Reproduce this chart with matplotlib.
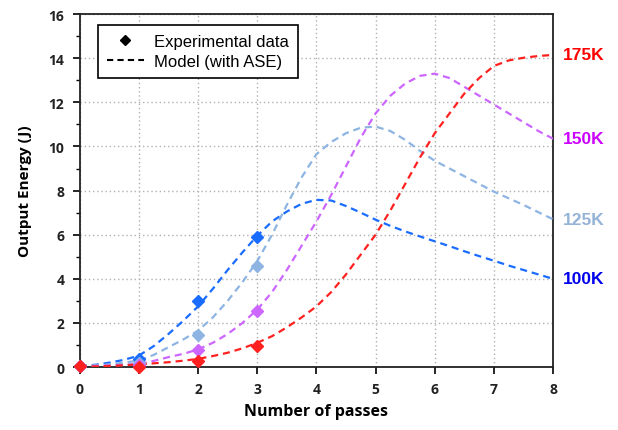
import matplotlib
matplotlib.use("Agg")
import matplotlib.pyplot as plt
from matplotlib.lines import Line2D

# ---- data ----
passes_exp = [0, 1, 2, 3]
exp_100K = [0.05, 0.37, 2.98, 5.9]
exp_125K = [0.05, 0.18, 1.45, 4.6]
exp_150K = [0.04, 0.10, 0.77, 2.52]
exp_175K = [0.03, 0.02, 0.28, 0.94]

passes_model = [0, 0.25, 0.5, 0.75, 1, 1.25, 1.5, 1.75, 2, 2.25, 2.5, 2.75, 3, 3.25, 3.5, 3.75,
                4, 4.25, 4.5, 4.75, 5, 5.25, 5.5, 5.75, 6, 6.25, 6.5, 6.75, 7, 7.25, 7.5, 7.75, 8]
model_100K = [0.05, 0.1, 0.2, 0.33, 0.52, 0.95, 1.5, 2.1, 2.75, 3.55, 4.4, 5.2, 5.95, 6.6, 7.05, 7.4,
              7.58, 7.55, 7.3, 7.0, 6.68, 6.4, 6.15, 5.92, 5.7, 5.48, 5.25, 5.03, 4.82, 4.6, 4.4, 4.2, 4.0]
model_125K = [0.05, 0.08, 0.12, 0.2, 0.3, 0.55, 0.9, 1.25, 1.65, 2.25, 3.0, 3.85, 4.8, 6.0, 7.35, 8.6,
              9.65, 10.2, 10.6, 10.85, 10.9, 10.7, 10.3, 9.8, 9.35, 9.0, 8.65, 8.3, 7.95, 7.65, 7.35, 7.02, 6.7]
model_150K = [0.03, 0.05, 0.07, 0.1, 0.15, 0.28, 0.45, 0.6, 0.8, 1.1, 1.5, 2.0, 2.6, 3.4, 4.4, 5.5,
              6.6, 7.8, 9.1, 10.4, 11.5, 12.3, 12.85, 13.2, 13.3, 13.1, 12.7, 12.3, 11.9, 11.5, 11.1, 10.7, 10.35]
model_175K = [0.02, 0.03, 0.05, 0.08, 0.12, 0.17, 0.22, 0.29, 0.37, 0.5, 0.65, 0.85, 1.1, 1.4, 1.8, 2.25,
              2.75, 3.4, 4.2, 5.1, 6.0, 7.1, 8.3, 9.5, 10.6, 11.5, 12.4, 13.1, 13.65, 13.9, 14.02, 14.1, 14.15]

labels = ["100K", "125K", "150K", "175K"]
line_colors = ["#1a6cff", "#8db4e2", "#cc66ff", "#ff2020"]
label_colors = ["#0000ee", "#95b3d7", "#cc00ff", "#ff0000"]
x_ticks = [0, 1, 2, 3, 4, 5, 6, 7, 8]
y_ticks = [0, 2, 4, 6, 8, 10, 12, 14, 16]

fig = plt.figure(figsize=(6.18, 4.31), dpi=100)
ax = fig.add_axes([0.129, 0.146, 0.766, 0.819])

models = [model_100K, model_125K, model_150K, model_175K]
exps = [exp_100K, exp_125K, exp_150K, exp_175K]

for m, e, c, lc, lab in zip(models, exps, line_colors, label_colors, labels):
    ax.plot(passes_model, m, linestyle=(0, (3.2, 2.2)), color=c, lw=1.6, zorder=3)
    ax.plot(passes_exp, e, linestyle="none", marker="D", markersize=6.5,
            color=c, markeredgecolor=c, zorder=4, clip_on=False)
    ax.text(8.16, m[-1], lab, color=lc, fontsize=12.5, fontweight="bold",
            family="Liberation Sans", va="center", ha="left",
            transform=ax.transData, clip_on=False)

ax.set_xlim(0, 8)
ax.set_ylim(0, 16)
ax.set_xticks(x_ticks)
ax.set_yticks(y_ticks)
ax.set_yticks([1, 3, 5, 7, 9, 11, 13, 15], minor=True)
ax.grid(True, which="major", linestyle=(0, (1, 2)), color="#b0b0b0", lw=1.0)
ax.set_axisbelow(True)

for s in ax.spines.values():
    s.set_linewidth(1.3)
    s.set_color("#222222")

ax.tick_params(axis="both", which="major", direction="out", length=5, width=1.2,
               labelsize=10, pad=6)
ax.tick_params(axis="y", which="minor", direction="out", length=3, width=1.0)
for t in ax.get_xticklabels() + ax.get_yticklabels():
    t.set_fontweight("bold")
    t.set_family("Open Sans")
    t.set_color("#222222")

ax.set_xlabel("Number of passes", fontsize=11.5, fontweight="bold",
              family="Open Sans", labelpad=5)
ax.set_ylabel("Output Energy (J)", fontsize=11, fontweight="bold",
              family="Open Sans", labelpad=12)

handles = [Line2D([], [], linestyle="none", marker="D", color="black", markersize=5),
           Line2D([], [], linestyle=(0, (3, 2)), color="black", lw=1.5)]
leg = ax.legend(handles, ["Experimental data", "Model (with ASE)"], loc="upper left",
                bbox_to_anchor=(0.038, 0.969), borderaxespad=0, fancybox=False, framealpha=1,
                edgecolor="black", prop={"family": "Liberation Sans", "size": 12},
                handlelength=2.2, borderpad=0.55, labelspacing=0.3, handletextpad=0.6)
leg.get_frame().set_linewidth(1.2)

fig.savefig("out.png", dpi=100)
